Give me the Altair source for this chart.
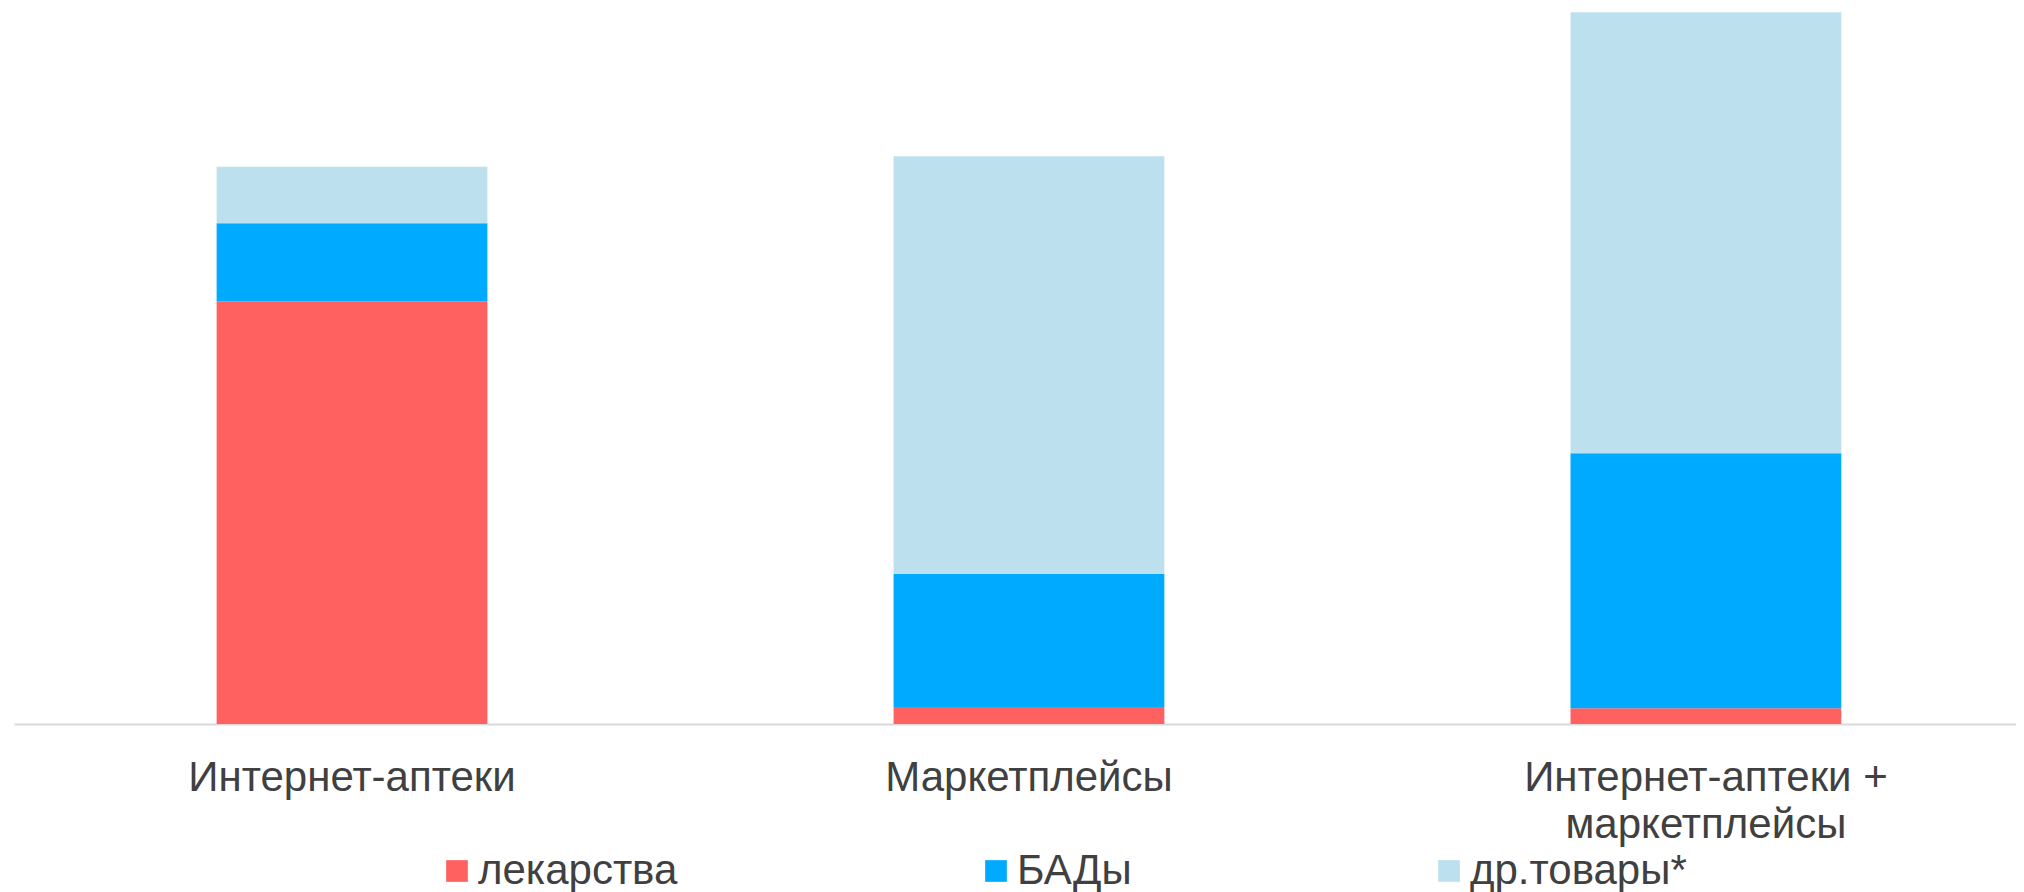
import altair as alt
import pandas as pd

categories = ["Интернет-аптеки", "Маркетплейсы", "Интернет-аптеки +|маркетплейсы"]
series = ["лекарства", "БАДы", "др.товары*"]
colors = ["#FF6161", "#00AAFF", "#BDE0EF"]
lekarstva = [59.3, 2.4, 2.2]
bady = [11.0, 18.7, 35.8]
drugie = [7.9, 58.6, 61.9]

rows = []
for i, c in enumerate(categories):
    for k, (s, vals) in enumerate(zip(series, [lekarstva, bady, drugie])):
        rows.append({"cat": c, "series": s, "order": k, "value": vals[i]})
df = pd.DataFrame(rows)

FONT = "Liberation Sans"
legend_x = [422, 961, 1414]

base = alt.Chart(df).transform_stack(
    stack="value", as_=["y0", "y1"], groupby=["cat"], sort=[alt.SortField("order")]
)

x_enc = alt.X(
    "cat:N",
    sort=categories,
    scale=alt.Scale(paddingInner=0.6, paddingOuter=0.2787, align=0.537),
    axis=alt.Axis(
        title=None, labelAngle=0, ticks=False, tickSize=0, labelPadding=33,
        labelFont=FONT, labelFontSize=42, labelColor="#404040",
        labelLimit=0, labelLineHeight=47,
        labelExpr="split(datum.label, '|')",
        domainColor="#D9D9D9", domainWidth=2, grid=False,
    ),
)
y_scale = alt.Scale(domain=[0, 100.5], nice=False, zero=True)

layers = []
for s, col, lx in zip(series, colors, legend_x):
    layers.append(
        base.transform_filter(alt.datum.series == s).mark_bar().encode(
            x=x_enc,
            y=alt.Y("y0:Q", scale=y_scale, axis=None),
            y2="y1:Q",
            color=alt.Color(
                "series:N",
                scale=alt.Scale(domain=[s], range=[col]),
                legend=alt.Legend(
                    title=None, orient="none", legendX=lx, legendY=842,
                    symbolType="square", symbolSize=470, symbolStrokeWidth=0,
                    labelFont=FONT, labelFontSize=42, labelColor="#404040",
                    labelOffset=0, padding=0, labelLimit=0,
                ),
            ),
        )
    )

chart = alt.layer(*layers).resolve_scale(color="independent").properties(
    width=2002, height=716,
    padding={"left": 6, "top": 0, "right": 0, "bottom": 0},
).configure_view(stroke=None)

chart.save("out.html", embed_options={"renderer": "svg", "actions": False})
